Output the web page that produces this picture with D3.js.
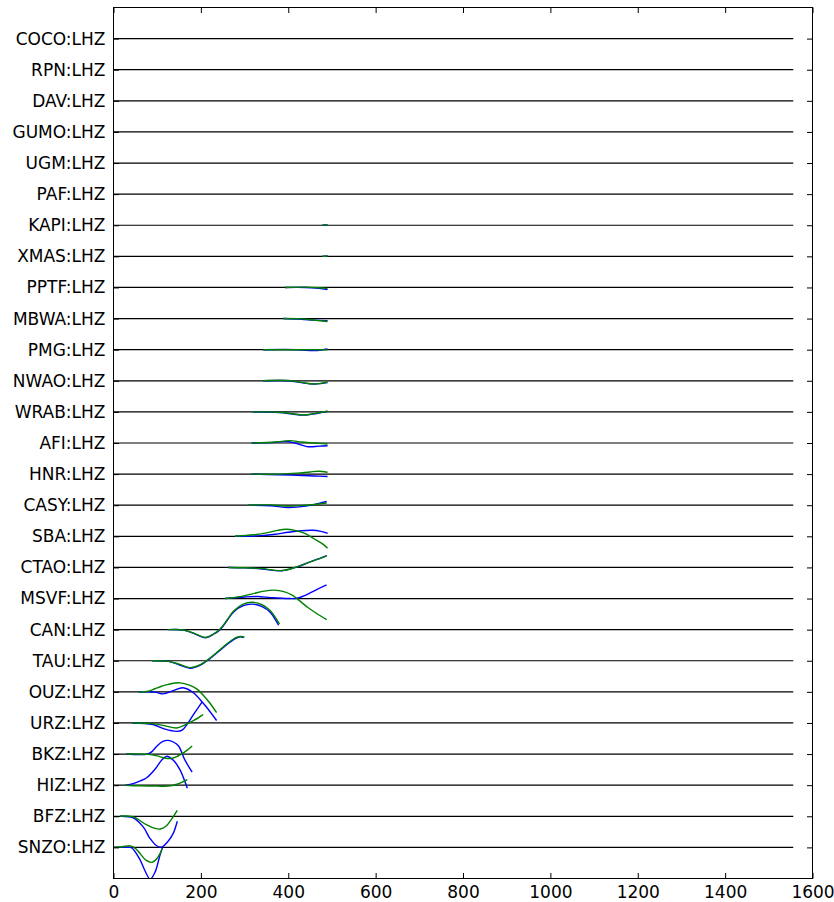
<!DOCTYPE html>
<html>
<head>
<meta charset="utf-8">
<script src="https://cdn.jsdelivr.net/npm/d3@7/dist/d3.min.js"></script>
<style>
  html, body { margin: 0; padding: 0; background: #ffffff; }
  svg { display: block; }
  text { font-family: "DejaVu Sans", sans-serif; fill: #000; }
</style>
</head>
<body>
<svg id="chart" width="834" height="902"></svg>
<script>
// Stations, listed top to bottom
const stations = ["COCO:LHZ", "RPN:LHZ", "DAV:LHZ", "GUMO:LHZ", "UGM:LHZ", "PAF:LHZ",
  "KAPI:LHZ", "XMAS:LHZ", "PPTF:LHZ", "MBWA:LHZ", "PMG:LHZ", "NWAO:LHZ", "WRAB:LHZ",
  "AFI:LHZ", "HNR:LHZ", "CASY:LHZ", "SBA:LHZ", "CTAO:LHZ", "MSVF:LHZ", "CAN:LHZ",
  "TAU:LHZ", "OUZ:LHZ", "URZ:LHZ", "BKZ:LHZ", "HIZ:LHZ", "BFZ:LHZ", "SNZO:LHZ"];

// Time axis ticks (s) and length of each station's baseline
const xTicks = [0, 200, 400, 600, 800, 1000, 1200, 1400, 1600];
const baselineEnd = 1556;

// Trace samples per station: [time (s), amplitude in station-spacing units]
// Blue trace
const blueTraces = {
  "KAPI:LHZ": [[478, 0], [490, 0.01]],
  "XMAS:LHZ": [[478, 0], [490, 0.01]],
  "PPTF:LHZ": [[393, 0], [440, 0.0], [470, -0.03], [490, -0.065]],
  "MBWA:LHZ": [[389, 0], [430, -0.02], [460, -0.05], [490, -0.065]],
  "PMG:LHZ":  [[343, 0], [420, 0.0], [460, -0.03], [480, 0.0], [490, 0.02]],
  "NWAO:LHZ": [[342, 0], [400, 0.0], [430, -0.06], [457, -0.105], [475, -0.09], [490, -0.06]],
  "WRAB:LHZ": [[319, 0], [380, -0.02], [410, -0.07], [435, -0.105], [465, -0.05], [490, 0.02]],
  "AFI:LHZ":  [[316, 0], [370, 0.02], [395, 0.05], [415, 0.0], [446, -0.12], [470, -0.1], [490, -0.09]],
  "HNR:LHZ":  [[315, 0], [380, -0.02], [420, -0.04], [460, -0.06], [490, -0.075]],
  "CASY:LHZ": [[309, 0], [360, -0.02], [400, -0.075], [440, -0.03], [470, 0.06], [488, 0.12]],
  "SBA:LHZ":  [[278, 0], [330, 0.015], [370, 0.065], [400, 0.13], [430, 0.18], [455, 0.195], [475, 0.16], [490, 0.10]],
  "CTAO:LHZ": [[263, 0], [300, -0.015], [340, -0.05], [385, -0.11], [420, 0.015], [450, 0.18], [475, 0.31], [488, 0.38]],
  "MSVF:LHZ": [[255, 0], [300, 0.05], [330, 0.065], [360, 0.03], [400, 0], [420, 0.01], [440, 0.11], [465, 0.29], [488, 0.44]],
  "CAN:LHZ":  [[126, 0], [160, -0.01], [185, -0.13], [210, -0.26], [230, -0.14], [244, 0], [260, 0.29], [275, 0.57], [297, 0.77], [318, 0.82], [340, 0.74], [358, 0.57], [378, 0.14]],
  "TAU:LHZ":  [[88, 0], [126, -0.02], [150, -0.13], [176, -0.24], [200, -0.13], [220, 0.06], [240, 0.29], [262, 0.55], [280, 0.72], [290, 0.77], [298, 0.74]],
  "OUZ:LHZ":  [[57, 0], [95, -0.01], [114, -0.065], [137, 0.04], [159, 0.13], [182, -0.02], [204, -0.34], [236, -0.92]],
  "URZ:LHZ":  [[43, 0], [90, -0.05], [118, -0.2], [145, -0.27], [158, -0.22], [168, -0.05], [183, 0.27], [203, 0.68]],
  "BKZ:LHZ":  [[30, 0], [78, 0], [88, 0.08], [99, 0.25], [112, 0.40], [125, 0.44], [138, 0.38], [149, 0.26], [163, -0.18], [180, -0.58]],
  "HIZ:LHZ":  [[27, 0], [45, 0.05], [60, 0.13], [76, 0.24], [95, 0.51], [110, 0.80], [122, 0.93], [137, 0.80], [152, 0.50], [169, -0.10]],
  "BFZ:LHZ":  [[15, 0], [45, -0.05], [68, -0.34], [83, -0.70], [98, -0.94], [110, -0.99], [125, -0.80], [137, -0.54], [146, -0.16]],
  "SNZO:LHZ": [[0, 0], [30, 0], [41, -0.01], [60, -0.38], [72, -0.75], [84, -1.02], [95, -0.80], [106, -0.27], [112, 0]]
};

// Green trace
const greenTraces = {
  "KAPI:LHZ": [[478, 0], [490, 0.01]],
  "XMAS:LHZ": [[478, 0], [490, 0.01]],
  "PPTF:LHZ": [[393, 0], [440, 0.01], [470, -0.01], [490, -0.03]],
  "MBWA:LHZ": [[389, 0], [430, -0.01], [460, -0.05], [490, -0.095]],
  "PMG:LHZ":  [[343, 0], [420, 0.0], [460, 0.0], [490, -0.005]],
  "NWAO:LHZ": [[342, 0], [400, 0.01], [430, -0.05], [460, -0.105], [478, -0.07], [490, -0.04]],
  "WRAB:LHZ": [[319, 0], [380, -0.01], [410, -0.06], [435, -0.1], [465, -0.04], [490, 0.02]],
  "AFI:LHZ":  [[316, 0], [370, 0.03], [404, 0.075], [430, 0.03], [460, 0.0], [490, -0.03]],
  "HNR:LHZ":  [[315, 0], [380, 0.0], [420, 0.03], [450, 0.07], [470, 0.09], [490, 0.06]],
  "CASY:LHZ": [[309, 0], [360, 0.01], [400, -0.03], [440, 0.0], [470, 0.04], [488, 0.07]],
  "SBA:LHZ":  [[278, 0], [320, 0.05], [350, 0.11], [375, 0.19], [395, 0.225], [415, 0.19], [435, 0.11], [450, 0], [465, -0.13], [480, -0.26], [490, -0.38]],
  "CTAO:LHZ": [[263, 0], [300, -0.01], [340, -0.04], [385, -0.10], [420, 0.02], [450, 0.18], [475, 0.30], [488, 0.37]],
  "MSVF:LHZ": [[255, 0], [290, 0.06], [320, 0.16], [345, 0.24], [368, 0.27], [390, 0.22], [410, 0.10], [425, -0.06], [445, -0.29], [465, -0.48], [488, -0.68]],
  "CAN:LHZ":  [[126, 0], [160, -0.01], [185, -0.12], [210, -0.25], [230, -0.13], [244, 0.02], [260, 0.31], [275, 0.60], [297, 0.82], [318, 0.88], [340, 0.80], [358, 0.62], [380, 0.18]],
  "TAU:LHZ":  [[88, 0], [126, -0.02], [150, -0.11], [176, -0.22], [200, -0.12], [220, 0.08], [240, 0.31], [262, 0.57], [280, 0.74], [292, 0.78], [300, 0.76]],
  "OUZ:LHZ":  [[57, 0], [80, 0.02], [95, 0.10], [110, 0.18], [125, 0.24], [152, 0.29], [175, 0.21], [192, 0.08], [205, -0.10], [220, -0.35], [236, -0.67]],
  "URZ:LHZ":  [[43, 0], [90, -0.02], [120, -0.1], [144, -0.16], [165, -0.05], [185, 0.09], [205, 0.27]],
  "BKZ:LHZ":  [[30, 0], [80, -0.01], [100, -0.06], [115, -0.12], [130, -0.145], [145, -0.08], [155, 0.0], [168, 0.12], [180, 0.26]],
  "HIZ:LHZ":  [[27, 0], [60, -0.02], [100, -0.03], [125, -0.03], [145, 0.03], [169, 0.18]],
  "BFZ:LHZ":  [[15, 0], [45, -0.02], [75, -0.27], [95, -0.39], [107, -0.41], [120, -0.32], [133, -0.09], [146, 0.19]],
  "SNZO:LHZ": [[0, 0], [20, 0.02], [38, 0.05], [50, -0.03], [62, -0.22], [75, -0.42], [88, -0.48], [100, -0.35], [112, -0.03]]
};

const svg = d3.select("#chart");
const W = 834, H = 902;
const plot = { left: 113.5, right: 812.5, top: 7.5, bottom: 878.5 };

svg.append("rect").attr("width", W).attr("height", H).attr("fill", "#fff");

const x = d3.scaleLinear().domain([0, 1600]).range([plot.left, plot.right]);
// station rows: SNZO at 0 up to COCO at 26, with one row of margin each side
const y = d3.scaleLinear().domain([-1, stations.length]).range([plot.bottom, plot.top]);
const rowOf = name => stations.length - 1 - stations.indexOf(name);

svg.append("defs").append("clipPath").attr("id", "plotClip")
  .append("rect")
  .attr("x", plot.left).attr("y", plot.top)
  .attr("width", plot.right - plot.left).attr("height", plot.bottom - plot.top);

const g = svg.append("g").attr("clip-path", "url(#plotClip)");

// baselines
g.selectAll("line.base")
  .data(stations)
  .join("line")
  .attr("class", "base")
  .attr("x1", x(0)).attr("x2", x(baselineEnd))
  .attr("y1", d => y(rowOf(d))).attr("y2", d => y(rowOf(d)))
  .attr("stroke", "#000").attr("stroke-width", 1.2);

function drawTraces(traces, color) {
  const entries = Object.entries(traces);
  g.selectAll(null)
    .data(entries)
    .join("path")
    .attr("fill", "none")
    .attr("stroke", color)
    .attr("stroke-width", 1.4)
    .attr("stroke-linejoin", "round")
    .attr("d", ([name, pts]) => {
      const r = rowOf(name);
      return d3.line()
        .x(p => x(p[0]))
        .y(p => y(r + p[1]))
        .curve(d3.curveCatmullRom.alpha(0.5))(pts);
    });
}
drawTraces(blueTraces, "#0000ff");
drawTraces(greenTraces, "#008000");

// frame
svg.append("rect")
  .attr("x", plot.left).attr("y", plot.top)
  .attr("width", plot.right - plot.left).attr("height", plot.bottom - plot.top)
  .attr("fill", "none").attr("stroke", "#000").attr("stroke-width", 1);

const tickLen = 5.5;
const fontSize = "17px";

// bottom axis with inward ticks
const xAxis = svg.append("g")
  .attr("transform", `translate(0,${plot.bottom})`)
  .call(d3.axisBottom(x).tickValues(xTicks).tickFormat(d3.format("d"))
    .tickSizeInner(-tickLen).tickSizeOuter(0).tickPadding(7));
// top axis, ticks only
const xTop = svg.append("g")
  .attr("transform", `translate(0,${plot.top})`)
  .call(d3.axisTop(x).tickValues(xTicks).tickFormat("")
    .tickSizeInner(-tickLen).tickSizeOuter(0));
// left axis with station names
const yAxis = svg.append("g")
  .attr("transform", `translate(${plot.left},0)`)
  .call(d3.axisLeft(y).tickValues(d3.range(stations.length))
    .tickFormat(i => stations[stations.length - 1 - i])
    .tickSizeInner(-tickLen).tickSizeOuter(0).tickPadding(8));
// right axis, ticks only
const yRight = svg.append("g")
  .attr("transform", `translate(${plot.right},0)`)
  .call(d3.axisRight(y).tickValues(d3.range(stations.length)).tickFormat("")
    .tickSizeInner(-tickLen).tickSizeOuter(0));

[xAxis, xTop, yAxis, yRight].forEach(a => {
  a.select(".domain").remove();
  a.selectAll(".tick line").attr("stroke", "#000").attr("stroke-width", 1);
  a.selectAll(".tick text")
    .attr("font-family", "DejaVu Sans, sans-serif")
    .attr("font-size", fontSize)
    .attr("fill", "#000");
});
</script>
</body>
</html>
